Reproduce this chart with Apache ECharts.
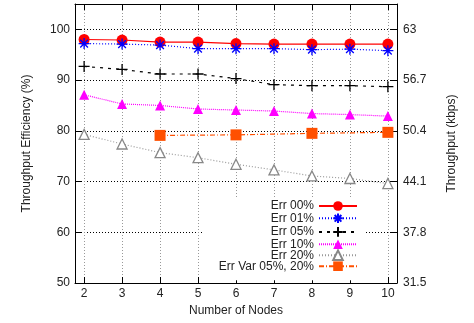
<!DOCTYPE html>
<html>
<head>
<meta charset="utf-8">
<script src="https://cdn.jsdelivr.net/npm/echarts@6/dist/echarts.min.js"></script>
<style>
  html, body { margin: 0; padding: 0; background: #fff; }
  #chart { width: 474px; height: 323px; }
</style>
</head>
<body>
<div id="chart"></div>
<script>
// 数据
const nodes = [2, 3, 4, 5, 6, 7, 8, 9, 10];
const err00 = [98.0, 97.9, 97.5, 97.5, 97.2, 97.1, 97.1, 97.1, 97.1];
const err01 = [97.2, 97.1, 96.9, 96.2, 96.2, 96.2, 96.0, 96.1, 95.8];
const err05 = [92.7, 92.1, 91.2, 91.2, 90.3, 89.1, 88.9, 88.9, 88.7];
const err10 = [87.1, 85.3, 85.0, 84.3, 84.1, 83.9, 83.4, 83.2, 82.9];
const err20 = [79.3, 77.4, 75.7, 74.7, 73.4, 72.3, 71.1, 70.6, 69.6];
const varNodes = [4, 6, 8, 10];
const errVar = [79.1, 79.2, 79.5, 79.7];
const seriesNames = ['Err 00%', 'Err 01%', 'Err 05%', 'Err 10%', 'Err 20%', 'Err Var 05%, 20%'];

function pairs(xs, ys) {
    return xs.map(function (x, i) { return [x, ys[i]]; });
}

const starPath = 'path://M0,-10 L0,10 M-10,0 L10,0 M-7,-7 L7,7 M-7,7 L7,-7';
const plusPath = 'path://M0,-10 L0,10 M-10,0 L10,0';
const font = 'Liberation Sans';

let myChart = echarts.init(document.getElementById('chart'));

let option = {
    animation: false,
    textStyle: { fontFamily: font },
    grid: { left: 75, right: 77, top: 4, bottom: 40, show: false },
    legend: {
        orient: 'vertical',
        align: 'right',
        right: 109,
        top: 197,
        padding: [3, 7, 8, 16],
        backgroundColor: '#fff',
        itemWidth: 38,
        itemHeight: 12,
        itemGap: -1,
        textStyle: { fontFamily: font, fontSize: 12, color: '#222', lineHeight: 12 },
        data: seriesNames
    },
    xAxis: [
        {
            type: 'value',
            min: 1.76,
            max: 10.24,
            minInterval: 1,
            maxInterval: 1,
            name: 'Number of Nodes',
            nameLocation: 'middle',
            nameGap: 18,
            nameTextStyle: { fontFamily: font, fontSize: 12, color: '#222' },
            axisLine: { lineStyle: { color: '#000', width: 1 } },
            axisTick: { inside: true, length: 6, lineStyle: { color: '#000' } },
            axisLabel: { fontFamily: font, fontSize: 12, color: '#222', margin: 5, showMinLabel: false, showMaxLabel: false },
            splitLine: { show: true, lineStyle: { color: '#999', type: [1, 2], width: 1 } }
        },
        {
            type: 'value',
            position: 'top',
            min: 1.76,
            max: 10.24,
            minInterval: 1,
            maxInterval: 1,
            axisLine: { lineStyle: { color: '#000', width: 1 } },
            axisTick: { inside: true, length: 6, lineStyle: { color: '#000' } },
            axisLabel: { show: false },
            splitLine: { show: false }
        }
    ],
    yAxis: [
        {
            type: 'value',
            min: 50,
            max: 105,
            interval: 10,
            name: 'Throughput Efficiency (%)',
            nameLocation: 'middle',
            nameGap: 42,
            nameTextStyle: { fontFamily: font, fontSize: 12, color: '#222' },
            axisLine: { show: true, lineStyle: { color: '#000', width: 1 } },
            axisTick: { show: true, inside: true, length: 6, lineStyle: { color: '#000' } },
            axisLabel: { fontFamily: font, fontSize: 12, color: '#222', margin: 5, showMaxLabel: false },
            splitLine: { show: true, lineStyle: { color: '#000', type: [1, 2], width: 1 } }
        },
        {
            type: 'value',
            min: 31.5,
            max: 66.15,
            interval: 6.3,
            name: 'Throughput (kbps)',
            nameLocation: 'middle',
            nameGap: 49,
            nameTextStyle: { fontFamily: font, fontSize: 12, color: '#222' },
            axisLine: { show: true, lineStyle: { color: '#000', width: 1 } },
            axisTick: { show: true, inside: true, length: 6, lineStyle: { color: '#000' } },
            axisLabel: {
                fontFamily: font, fontSize: 12, color: '#222', margin: 6, showMaxLabel: false,
                formatter: function (v) { return String(+v.toFixed(1)); }
            },
            splitLine: { show: false }
        }
    ],
    series: [
        {
            name: seriesNames[0], type: 'line', data: pairs(nodes, err00),
            symbol: 'circle', symbolSize: 11,
            itemStyle: { color: '#ff0000' },
            lineStyle: { color: '#ff0000', width: 1.2, type: 'solid' }
        },
        {
            name: seriesNames[1], type: 'line', data: pairs(nodes, err01),
            symbol: starPath, symbolSize: 11,
            itemStyle: { color: 'none', borderColor: '#0000ff', borderWidth: 1.3 },
            lineStyle: { color: '#0000ff', width: 1.2, type: [1, 2] }
        },
        {
            name: seriesNames[2], type: 'line', data: pairs(nodes, err05),
            symbol: plusPath, symbolSize: 11,
            itemStyle: { color: 'none', borderColor: '#000', borderWidth: 1.3 },
            lineStyle: { color: '#000', width: 1.2, type: [3, 5] }
        },
        {
            name: seriesNames[3], type: 'line', data: pairs(nodes, err10),
            symbol: 'triangle', symbolSize: 10,
            itemStyle: { color: '#ff00ff' },
            lineStyle: { color: '#ff00ff', width: 1.2, type: [1, 1] }
        },
        {
            name: seriesNames[4], type: 'line', data: pairs(nodes, err20),
            symbol: 'triangle', symbolSize: 10,
            itemStyle: { color: '#fff', borderColor: '#888', borderWidth: 1.3 },
            lineStyle: { color: '#999', width: 1.2, type: [1, 2] }
        },
        {
            name: seriesNames[5], type: 'line', data: pairs(varNodes, errVar),
            symbol: 'rect', symbolSize: 11,
            itemStyle: { color: '#ff5000' },
            lineStyle: { color: '#ff5000', width: 1.2, type: [5, 2, 1, 2] }
        }
    ]
};
myChart.setOption(option);
</script>
</body>
</html>
